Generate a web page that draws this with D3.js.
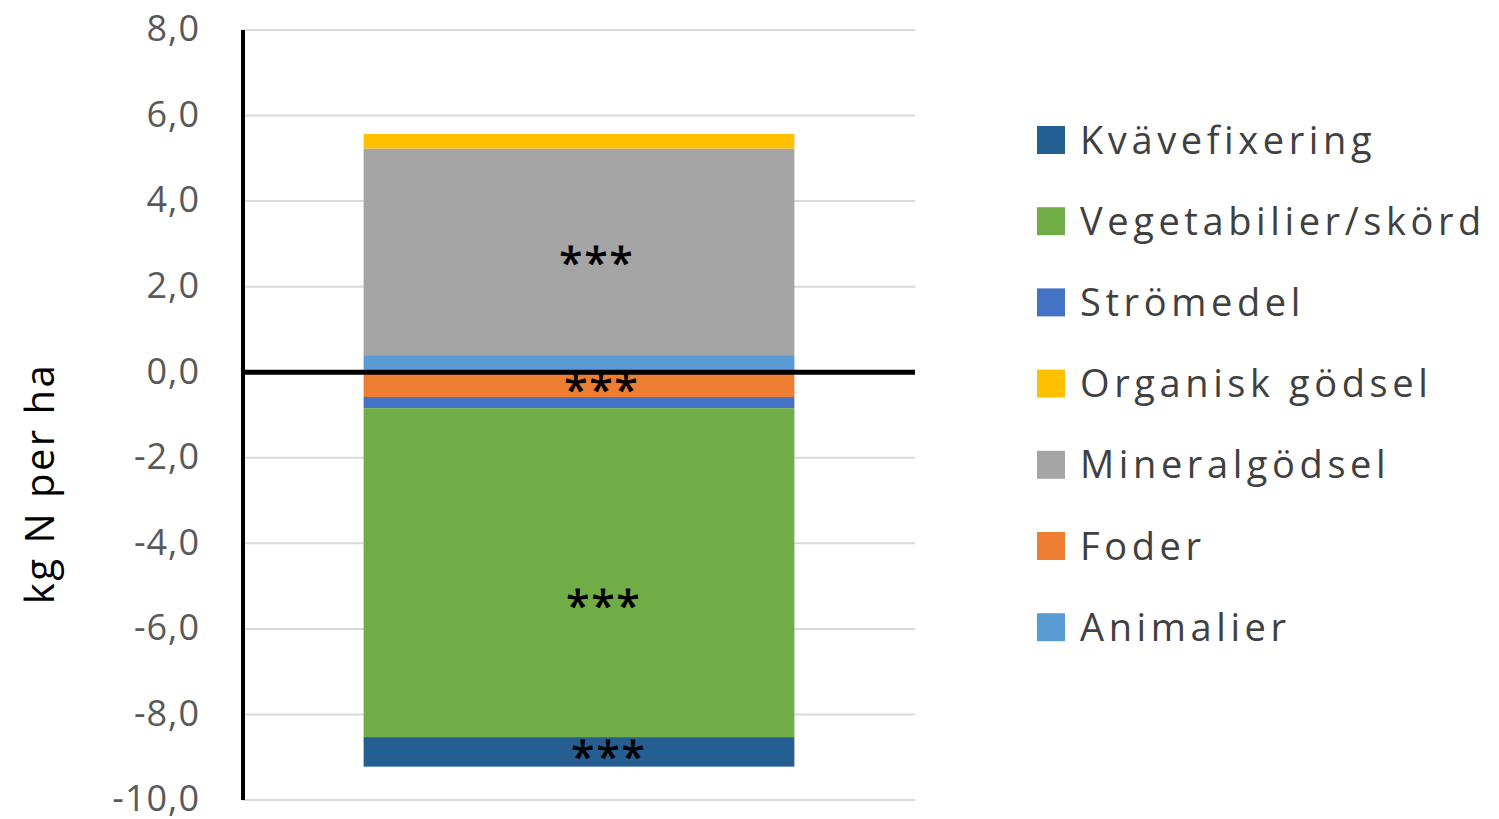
<!DOCTYPE html>
<html>
<head>
<meta charset="utf-8">
<script src="https://cdn.jsdelivr.net/npm/d3@7"></script>
<style>
  body { margin: 0; background: #fff; }
  text { font-family: "Open Sans", sans-serif; }
</style>
</head>
<body>
<div id="chart"></div>
<script>
// data (kg N per ha)
var category = ["Total"];
var seriesNames = ["Animalier", "Foder", "Mineralgödsel", "Organisk gödsel", "Strömedel", "Vegetabilier/skörd", "Kvävefixering"];
var seriesValues = [0.40, -0.58, 4.83, 0.34, -0.26, -7.69, -0.69];
var seriesLabels = ["", "***", "***", "", "", "***", "***"];
var seriesColors = ["#5b9bd5", "#ed7d31", "#a5a5a5", "#ffc000", "#4472c4", "#70ad47", "#255e91"];
var legendOrder = ["Kvävefixering", "Vegetabilier/skörd", "Strömedel", "Organisk gödsel", "Mineralgödsel", "Foder", "Animalier"];
var yTicks = [-10, -8, -6, -4, -2, 0, 2, 4, 6, 8];

// set the dimensions and margins of the graph
var W = 1499, H = 819;
var margin = { top: 30, right: 584, bottom: 19, left: 243 },
    width = W - margin.left - margin.right,
    height = H - margin.top - margin.bottom;

var svg = d3.select("#chart")
    .append("svg")
    .attr("width", W)
    .attr("height", H)
    .append("g")
    .attr("transform", "translate(" + margin.left + "," + margin.top + ")");

// one row table for the stack
var row = { cat: category[0] };
seriesNames.forEach(function(k, i) { row[k] = seriesValues[i]; });

var stacked = d3.stack()
    .keys(seriesNames)
    .offset(d3.stackOffsetDiverging)([row]);

var color = d3.scaleOrdinal().domain(seriesNames).range(seriesColors);

var x = d3.scaleBand()
    .domain(category)
    .range([0, width])
    .paddingInner(0)
    .paddingOuter(0.28);

var y = d3.scaleLinear()
    .domain([-10, 8])
    .range([height, 0]);

// gridlines
svg.append("g")
    .selectAll("line")
    .data(yTicks)
    .enter().append("line")
    .attr("x1", 0)
    .attr("x2", width)
    .attr("y1", function(d) { return y(d); })
    .attr("y2", function(d) { return y(d); })
    .attr("stroke", "#d9d9d9")
    .attr("stroke-width", 2);

// y axis labels
var fmt = function(d) { return d3.format(".1f")(d).replace(".", ",").replace("−", "-"); };
var yAxis = svg.append("g")
    .call(d3.axisLeft(y).tickValues(yTicks).tickFormat(fmt).tickSize(0).tickPadding(43));
yAxis.select(".domain").remove();
yAxis.selectAll("text")
    .attr("fill", "#595959")
    .style("font-size", "36px")
    .style("letter-spacing", "1px")
    .attr("dy", "0.3em");

// bars
svg.append("g")
    .selectAll("g")
    .data(stacked)
    .enter().append("g")
    .attr("fill", function(d) { return color(d.key); })
    .selectAll("rect")
    .data(function(d) { return d; })
    .enter().append("rect")
    .attr("x", function(d) { return x(d.data.cat); })
    .attr("width", x.bandwidth())
    .attr("y", function(d) { return y(d[1]); })
    .attr("height", function(d) { return y(d[0]) - y(d[1]); });

// vertical axis line and zero line
svg.append("line")
    .attr("x1", 0).attr("x2", 0)
    .attr("y1", y(8)).attr("y2", y(-10))
    .attr("stroke", "#000").attr("stroke-width", 4);
svg.append("line")
    .attr("x1", 0).attr("x2", width)
    .attr("y1", y(0)).attr("y2", y(0))
    .attr("stroke", "#000").attr("stroke-width", 5);

// significance labels
var nudge = { "Foder": [23, 20], "Mineralgödsel": [18, 26], "Vegetabilier/skörd": [25, 48], "Kvävefixering": [30, 20] };
svg.append("g")
    .selectAll("text")
    .data(stacked.filter(function(s, i) { return seriesLabels[i] !== ""; }))
    .enter().append("text")
    .attr("x", function(d) { return x(d[0].data.cat) + x.bandwidth() / 2 + nudge[d.key][0]; })
    .attr("y", function(d) { return (y(d[0][0]) + y(d[0][1])) / 2 + nudge[d.key][1]; })
    .attr("text-anchor", "middle")
    .style("font-size", "42px")
    .style("letter-spacing", "2px")
    .attr("fill", "#000")
    .attr("stroke", "#000")
    .attr("stroke-width", 0.8)
    .text(function(d) { return seriesLabels[seriesNames.indexOf(d.key)]; });

// axis title
svg.append("text")
    .attr("transform", "translate(" + (54 - margin.left) + "," + y(-2.6) + ") rotate(-90)")
    .attr("text-anchor", "middle")
    .style("font-size", "40px")
    .style("letter-spacing", "2.5px")
    .attr("fill", "#000")
    .text("kg N per ha");

// legend
var legend = svg.append("g")
    .attr("transform", "translate(" + (1037 - margin.left) + "," + (140 - margin.top) + ")");
var item = legend.selectAll("g")
    .data(legendOrder)
    .enter().append("g")
    .attr("transform", function(d, i) { return "translate(0," + (i * 81.2) + ")"; });
item.append("rect")
    .attr("x", 0).attr("y", -14)
    .attr("width", 28).attr("height", 28)
    .attr("fill", function(d) { return color(d); });
item.append("text")
    .attr("x", 43)
    .attr("dy", "0.36em")
    .style("font-size", "38px")
    .style("letter-spacing", "4.6px")
    .attr("fill", "#404040")
    .text(function(d) { return d; });
</script>
</body>
</html>
